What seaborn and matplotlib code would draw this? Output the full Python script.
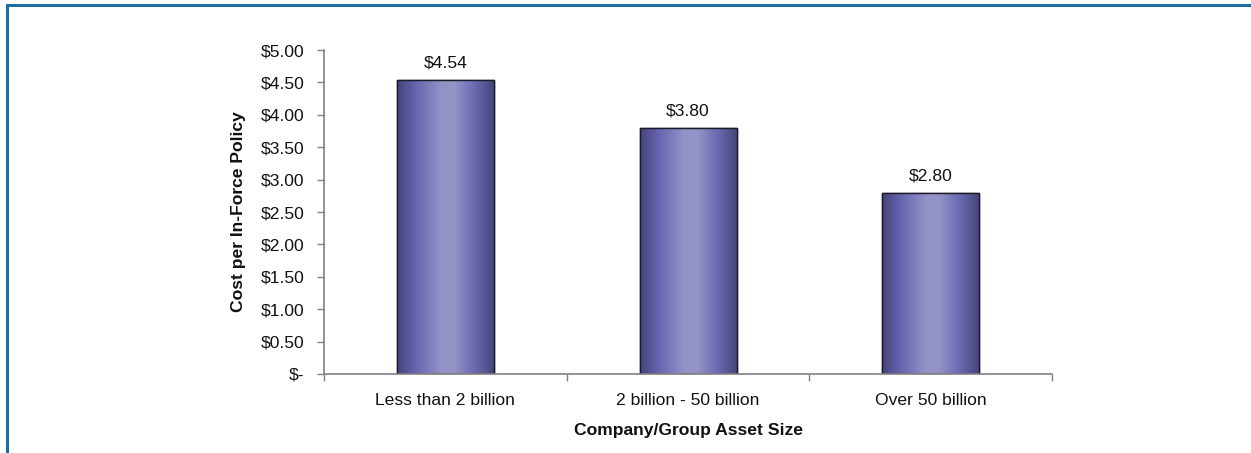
import numpy as np
import pandas as pd
import matplotlib
matplotlib.use("Agg")
import matplotlib.pyplot as plt
from matplotlib.colors import LinearSegmentedColormap
from matplotlib.lines import Line2D
import seaborn as sns

# Average cost per in-force policy by company/group asset size
categories = ["Less than 2 billion", "2 billion - 50 billion", "Over 50 billion"]
costs = [4.54, 3.80, 2.80]
y_ticks = [0.0, 0.5, 1.0, 1.5, 2.0, 2.5, 3.0, 3.5, 4.0, 4.5, 5.0]

df = pd.DataFrame({"size": categories, "cost": costs})

sns.set_theme(style="white")
plt.rcParams["font.family"] = ["Liberation Sans", "DejaVu Sans"]

FS = 12.6

fig = plt.figure(figsize=(12.51, 4.53), dpi=100)
ax = fig.add_axes([0.259, 0.1744, 0.582, 0.7152])

sns.barplot(data=df, x="size", y="cost", ax=ax, width=0.40,
            color="#7a78b8", edgecolor="#1a1a2a", linewidth=1.0,
            errorbar=None)

# Cylinder-like horizontal shading laid over each bar
shade = LinearSegmentedColormap.from_list(
    "bar_shade",
    [(0.00, "#44447a"), (0.18, "#6563ad"), (0.45, "#9392c8"),
     (0.58, "#9594c6"), (0.78, "#6e6cb4"), (1.00, "#44447a")])
grad = np.linspace(0, 1, 256).reshape(1, -1)
for patch in ax.patches:
    x0, y0 = patch.get_x(), patch.get_y()
    w, h = patch.get_width(), patch.get_height()
    im = ax.imshow(grad, cmap=shade, aspect="auto",
                   extent=[x0, x0 + w, y0, y0 + h], zorder=patch.get_zorder() + 0.1)
    im.set_clip_path(patch)
    edge = plt.Rectangle((x0, y0), w, h, fill=False, edgecolor="#1a1a2a",
                         linewidth=1.0, zorder=patch.get_zorder() + 0.2)
    ax.add_patch(edge)

ax.set_xlim(-0.5, 2.5)
ax.set_ylim(0, 5.0)
ax.set_yticks(y_ticks)
ax.set_yticklabels(["$-" if v == 0 else f"${v:.2f}" for v in y_ticks])

# Category boundary ticks on the x axis
ax.set_xticks([0, 1, 2])
ax.set_xticklabels(categories)
ax.tick_params(axis="x", length=0, pad=14, labelsize=FS, labelcolor="#111111")
ax.set_xticks([-0.5, 0.5, 1.5, 2.5], minor=True)
ax.tick_params(axis="x", which="minor", bottom=True, length=5, width=1, color="#808080",
               direction="out")
ax.tick_params(axis="y", left=True, length=5, width=1, color="#808080",
               direction="out", labelsize=FS, labelcolor="#111111", pad=9)

for side in ["top", "right"]:
    ax.spines[side].set_visible(False)
for side in ["left", "bottom"]:
    ax.spines[side].set_color("#808080")
    ax.spines[side].set_linewidth(1.2)

ax.set_xlabel("Company/Group Asset Size", fontsize=FS, fontweight="bold",
              color="#111111", labelpad=10.5)
ax.set_ylabel("Cost per In-Force Policy", fontsize=FS, fontweight="bold",
              color="#111111", labelpad=11)

for c in ax.containers:
    ax.bar_label(c, labels=[f"${v:.2f}" for v in c.datavalues], padding=6.5,
                 fontsize=FS, color="#111111")

# Frame lines along the top and left edge of the figure
fig.add_artist(Line2D([6.5 / 1251, 1.0], [1 - 4.5 / 453, 1 - 4.5 / 453],
                      transform=fig.transFigure, color="#1c6e9e", linewidth=2.2))
fig.add_artist(Line2D([6.5 / 1251, 6.5 / 1251], [0.0, 1 - 4.5 / 453],
                      transform=fig.transFigure, color="#1c6e9e", linewidth=2.2))

fig.savefig("out.png", dpi=100, facecolor="white")
